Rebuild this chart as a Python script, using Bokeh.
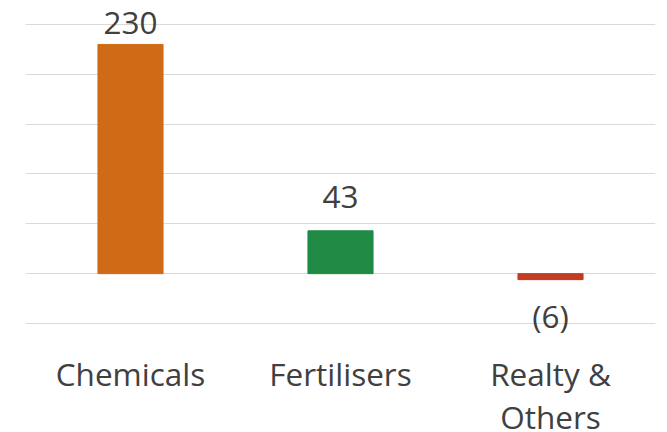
from bokeh.plotting import figure
from bokeh.models import ColumnDataSource, FactorRange, Range1d, FixedTicker
from bokeh.core.properties import value
from bokeh.embed import file_html
from bokeh.resources import INLINE

# ---- data ----
categories = ["Chemicals", "Fertilisers", "Realty & Others"]
cat_labels = ["Chemicals", "Fertilisers", "Realty &\nOthers"]
values = [230, 43, -6]
value_text = ["230", "43", "(6)"]
grid_ticks = [-50, 0, 50, 100, 150, 200, 250]

# ---- styles ----
bar_colors = ["#CF6B16", "#1F8B45", "#C23B22"]
label_dy = [-21, -34, 36]
text_color = "#404040"
font = value("Open Sans")
fsize = "31.5px"

p = figure(
    x_range=FactorRange(*categories, range_padding=0),
    y_range=Range1d(-159.4, 274.1),
    width=667, height=432,
    output_backend="svg", toolbar_location=None,
    min_border_left=25, min_border_right=12, min_border_top=0, min_border_bottom=0,
)
p.outline_line_color = None
p.xaxis.visible = False
p.yaxis.visible = False
p.xgrid.visible = False
p.ygrid.ticker = FixedTicker(ticks=grid_ticks)
p.ygrid.grid_line_color = "#D9D9D9"
p.ygrid.grid_line_width = 1

src = ColumnDataSource(dict(x=categories, top=values, color=bar_colors,
                            txt=value_text, dy=label_dy))
p.vbar(x="x", top="top", bottom=0, width=0.31, color="color", source=src)

p.text(x="x", y="top", text="txt", y_offset="dy", source=src,
       text_align="center", text_baseline="alphabetic",
       text_font=font, text_font_size=fsize, text_color=text_color)

# category labels (below the bottom gridline)
ymin = min(grid_ticks)
line1 = [s.split("\n")[0] for s in cat_labels]
line2 = [s.split("\n")[1] if "\n" in s else "" for s in cat_labels]
csrc = ColumnDataSource(dict(x=categories, y=[ymin] * len(categories), l1=line1, l2=line2))
p.text(x="x", y="y", text="l1", y_offset=50, source=csrc,
       text_align="center", text_baseline="alphabetic",
       text_font=font, text_font_size=fsize, text_color=text_color)
p.text(x="x", y="y", text="l2", y_offset=93, source=csrc,
       text_align="center", text_baseline="alphabetic",
       text_font=font, text_font_size=fsize, text_color=text_color)

open("out.html", "w").write(file_html(p, INLINE))
